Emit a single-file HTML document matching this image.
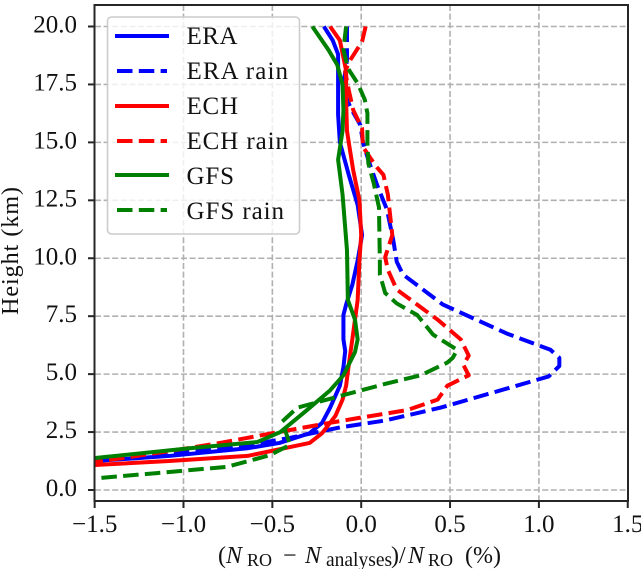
<!DOCTYPE html>
<html>
<head>
<meta charset="utf-8">
<style>
html,body{margin:0;padding:0;background:#fff;}
svg{display:block;}
text{font-family:"Liberation Serif",serif;fill:#111;}
</style>
</head>
<body>
<svg id="chart" xmlns="http://www.w3.org/2000/svg" width="641" height="569" viewBox="0 0 641 569">
<defs><clipPath id="plot-clip"><rect x="95" y="5" width="533" height="496"/></clipPath></defs>
<g id="grid"></g>
<g id="series" clip-path="url(#plot-clip)"></g>
<g id="legend">
<rect x="107.5" y="17" width="192" height="217" rx="4" ry="4" fill="#fff" fill-opacity="0.8" stroke="#ccc" stroke-width="1.6"/>
<g><line x1="115" x2="169" y1="36" y2="36" stroke="#0000ff" stroke-width="4"/><text x="186.5" y="44" font-size="25" textLength="51">ERA</text></g>
<g><line x1="117" x2="167" y1="71" y2="71" stroke="#0000ff" stroke-width="4" stroke-dasharray="15.5 6.3"/><text x="186.5" y="79" font-size="25" textLength="101.5">ERA rain</text></g>
<g><line x1="115" x2="169" y1="106" y2="106" stroke="#ff0000" stroke-width="4"/><text x="186.5" y="114" font-size="25" textLength="51.5">ECH</text></g>
<g><line x1="117" x2="167" y1="141" y2="141" stroke="#ff0000" stroke-width="4" stroke-dasharray="15.5 6.3"/><text x="186.5" y="149" font-size="25" textLength="101.5">ECH rain</text></g>
<g><line x1="115" x2="169" y1="175" y2="175" stroke="#008000" stroke-width="4"/><text x="186.5" y="184" font-size="25" textLength="47.5">GFS</text></g>
<g><line x1="117" x2="167" y1="210" y2="210" stroke="#008000" stroke-width="4" stroke-dasharray="15.5 6.3"/><text x="186.5" y="219" font-size="25" textLength="97.5">GFS rain</text></g>
</g>
<g id="axes">
<rect x="94.5" y="5" width="533.5" height="496" fill="none" stroke="#262626" stroke-width="2"/>
</g>
<text transform="translate(18,315) rotate(-90)" font-size="24" textLength="128">Height (km)</text>
<text y="563" font-size="24"><tspan x="218" y="563">(</tspan><tspan x="226" y="563" font-style="italic">N</tspan><tspan x="247" y="566" font-size="18">RO</tspan><tspan x="283" y="563">−</tspan><tspan x="305" y="563" font-style="italic">N</tspan><tspan x="326" y="566" font-size="19.5">analyses</tspan><tspan x="391" y="563">)/</tspan><tspan x="408" y="563" font-style="italic">N</tspan><tspan x="428" y="566" font-size="18">RO</tspan><tspan x="465" y="563">(%)</tspan></text>
</svg>
<script>
var xTickLabels = ["−1.5","−1.0","−0.5","0.0","0.5","1.0","1.5"];
var xTickValues = [-1.5,-1,-0.5,0,0.5,1,1.5];
var yTickLabels = ["0.0","2.5","5.0","7.5","10.0","12.5","15.0","17.5","20.0"];
var yTickValues = [0,2.5,5,7.5,10,12.5,15,17.5,20];

var eraHeight = [20,19.4,18.8,17.5,16.2,15,13.6,12.3,11,9.9,8.85,8,7.55,6.5,6,5.3,4.5,3.55,2.9,2.45,2.03,1.8,1.47,1.25];
var eraValues = [-0.21,-0.16,-0.13,-0.13,-0.13,-0.12,-0.07,-0.02,0.005,-0.02,-0.05,-0.085,-0.1,-0.1,-0.09,-0.1,-0.12,-0.175,-0.22,-0.29,-0.46,-0.64,-1.08,-1.5];

var eraRainHeight = [20,18.55,17.5,17.05,16.5,15.75,15,14.25,13.15,12.1,10.8,9.85,9.3,8,6.75,6.05,5.7,5.35,4.9,4.3,3.55,3,2.7,2.25,1.95,1.5,1.25];
var eraRainValues = [-0.08,-0.08,-0.1,-0.09,-0.06,-0.005,0.01,0.04,0.09,0.145,0.18,0.2,0.235,0.46,0.82,1.065,1.115,1.115,1.055,0.785,0.445,0.135,-0.12,-0.4,-0.625,-1.15,-1.5];

var echHeight = [20,19.4,18.1,16.8,15.5,15,13.8,12.5,11,9.9,8.2,6.5,5.4,4.5,3.9,3.2,2.45,2.03,1.47,1.25,1.08];
var echValues = [-0.175,-0.12,-0.085,-0.085,-0.08,-0.07,-0.045,-0.01,0,-0.01,-0.02,-0.05,-0.07,-0.085,-0.105,-0.145,-0.22,-0.29,-0.64,-1.08,-1.5];

var echRainHeight = [20,19.35,18.45,18.05,17.25,16.4,15.6,14.8,14,13.6,12.75,11,10.05,9.5,8.65,8,7.35,6.5,5.8,5.4,4.95,4.5,3.9,3.45,3.1,2.9,2.45,2.05,1.7,1.2];
var echRainValues = [0.025,0.005,-0.07,-0.09,-0.07,-0.045,0.005,0.01,0.08,0.125,0.15,0.175,0.135,0.15,0.2,0.315,0.43,0.56,0.605,0.575,0.605,0.485,0.43,0.26,-0.02,-0.175,-0.5,-0.78,-1.06,-1.5];

var gfsHeight = [20,19,18.35,17.5,16.4,15.5,14.25,12.75,10.35,8.2,7.35,6.5,5.95,4.95,4.3,3.45,2.5,2.07,1.8,1.38];
var gfsValues = [-0.275,-0.185,-0.135,-0.105,-0.1,-0.105,-0.13,-0.105,-0.08,-0.075,-0.035,-0.02,-0.035,-0.1,-0.175,-0.305,-0.455,-0.585,-0.965,-1.5];

var gfsRainHeight = [20,19,18.2,17.55,16.85,16.25,15,14.1,13.25,12.2,9.85,9.3,8.5,8.05,7.55,6.7,6.05,5.7,5.5,4.95,4.6,4,3.55,2.95,1.95,1.5,1,0.73,0.5];
var gfsRainValues = [-0.085,-0.1,-0.075,-0.02,0.02,0.035,0.035,0.04,0.07,0.1,0.105,0.105,0.135,0.2,0.315,0.405,0.54,0.515,0.485,0.335,0.145,-0.145,-0.36,-0.445,-0.4,-0.515,-0.755,-1.15,-1.5];

var NS = "http://www.w3.org/2000/svg";
function xScale(v){ return 361.2 + 177.7 * v; }
function yScale(h){ return 490 - 23.175 * h; }

function addSvg(parent, tag, attrs){
  var el = document.createElementNS(NS, tag);
  for (var k in attrs) el.setAttribute(k, attrs[k]);
  parent.appendChild(el);
  return el;
}

var gridGroup = document.getElementById("grid");
var axesGroup = document.getElementById("axes");
var seriesGroup = document.getElementById("series");

var gridStyle = {stroke:"#b0b0b0", "stroke-width":1.6, "stroke-dasharray":"6 2.6"};
var axisTop = 5, axisBottom = 501, axisLeft = 95, axisRight = 628;

xTickValues.forEach(function(v, i){
  var x = xScale(v);
  if (i > 0 && i < xTickValues.length - 1) {
    var g = addSvg(gridGroup, "line", {x1:x, x2:x, y1:axisTop, y2:axisBottom, stroke:gridStyle.stroke, "stroke-width":gridStyle["stroke-width"], "stroke-dasharray":gridStyle["stroke-dasharray"]});
    
    
  }
  var t = addSvg(axesGroup, "line", {x1:x, x2:x, y1:axisBottom, y2:axisBottom + 7, stroke:"#262626", "stroke-width":2});
  
  
  var l = addSvg(axesGroup, "text", {x:x, y:532, "font-size":25, "text-anchor":"middle"});
  l.textContent = xTickLabels[i];
  
  
});

yTickValues.forEach(function(h, i){
  var y = yScale(h);
  var g = addSvg(gridGroup, "line", {x1:axisLeft, x2:axisRight, y1:y, y2:y, stroke:gridStyle.stroke, "stroke-width":gridStyle["stroke-width"], "stroke-dasharray":gridStyle["stroke-dasharray"]});
  
  
  var t = addSvg(axesGroup, "line", {x1:axisLeft - 7, x2:axisLeft, y1:y, y2:y, stroke:"#262626", "stroke-width":2});
  
  
  var l = addSvg(axesGroup, "text", {x:77, y:y + 6, "font-size":25, "text-anchor":"end"});
  l.textContent = yTickLabels[i];
  
  
});

function drawLine(values, heights, color, dashed, name){
  var d = values.map(function(v, i){
    return (i ? "L" : "M") + xScale(v).toFixed(2) + " " + yScale(heights[i]).toFixed(2);
  }).join(" ");
  var p = addSvg(seriesGroup, "path", {d:d, fill:"none", stroke:color, "stroke-width":4, "stroke-linejoin":"round"});
  if (dashed) p.setAttribute("stroke-dasharray", "15.5 6.3");
  
  
}

drawLine(eraValues, eraHeight, "#0000ff", false, "era-line");
drawLine(eraRainValues, eraRainHeight, "#0000ff", true, "era-rain-line");
drawLine(echValues, echHeight, "#ff0000", false, "ech-line");
drawLine(echRainValues, echRainHeight, "#ff0000", true, "ech-rain-line");
drawLine(gfsValues, gfsHeight, "#008000", false, "gfs-line");
drawLine(gfsRainValues, gfsRainHeight, "#008000", true, "gfs-rain-line");
</script>
</body>
</html>
